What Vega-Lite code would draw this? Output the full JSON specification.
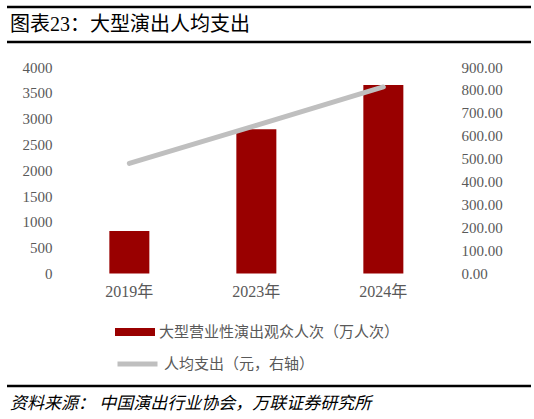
{
  "$schema": "https://vega.github.io/schema/vega-lite/v6.json",
  "padding": {"left": 5, "right": 5, "top": 5, "bottom": 0},
  "spacing": 84,
  "config": {
    "view": {"stroke": null},
    "font": "Liberation Serif, Noto Sans CJK SC",
    "text": {"font": "Liberation Serif, Noto Sans CJK SC"}
  },
  "vconcat": [
    {
      "spacing": 16,
      "vconcat": [
        {
          "width": 524,
          "height": 35,
          "layer": [
            {
              "data": {"values": [{"edge": 0}, {"edge": 1}]},
              "mark": {"type": "rule", "color": "#000000", "strokeWidth": 2.5},
              "encoding": {
                "y": {"field": "edge", "type": "quantitative", "scale": {"domain": [0, 1]}, "axis": null}
              }
            },
            {
              "data": {"values": [{"label": "图表23：大型演出人均支出"}]},
              "mark": {"type": "text", "align": "left", "baseline": "middle", "fontSize": 20, "dx": 3, "color": "#000000"},
              "encoding": {
                "text": {"field": "label"},
                "x": {"datum": 0, "type": "quantitative", "scale": {"domain": [0, 1]}, "axis": null},
                "y": {"datum": 0.5, "type": "quantitative", "axis": null}
              }
            }
          ]
        },
        {
          "width": 524,
          "height": 206.5,
          "data": {
            "values": [
              {"year": "2019年", "audience": 823, "spend": 480},
              {"year": "2023年", "audience": 2794, "spend": 646},
              {"year": "2024年", "audience": 3651, "spend": 813}
            ]
          },
          "encoding": {
            "x": {
              "field": "year",
              "type": "ordinal",
              "sort": null,
              "scale": {"paddingInner": 0.685, "paddingOuter": 0.9055, "align": 0.445},
              "axis": {
                "title": null,
                "labelAngle": 0,
                "domain": false,
                "ticks": false,
                "labelFontSize": 16,
                "labelColor": "#595959",
                "labelPadding": 10
              }
            }
          },
          "layer": [
            {
              "mark": {"type": "bar"},
              "encoding": {
                "y": {
                  "field": "audience",
                  "type": "quantitative",
                  "scale": {"domain": [0, 4000]},
                  "axis": {
                    "orient": "left",
                    "offset": -58.8,
                    "values": [0, 500, 1000, 1500, 2000, 2500, 3000, 3500, 4000],
                    "format": "d",
                    "title": null,
                    "domain": false,
                    "ticks": false,
                    "grid": false,
                    "labelPadding": 13.8,
                    "labelFontSize": 15,
                    "labelColor": "#595959"
                  }
                },
                "fill": {
                  "datum": "大型营业性演出观众人次（万人次）",
                  "scale": {"range": ["#990000"]},
                  "legend": {
                    "orient": "none",
                    "legendX": 108,
                    "legendY": 305,
                    "title": null,
                    "padding": 0,
                    "symbolType": "M-1,-0.2H1V0.2H-1Z",
                    "symbolSize": 1600,
                    "symbolStrokeWidth": 0,
                    "labelFontSize": 15,
                    "labelColor": "#595959",
                    "labelOffset": 4,
                    "labelLimit": 400
                  }
                }
              }
            },
            {
              "mark": {"type": "line", "strokeWidth": 5, "strokeCap": "round"},
              "encoding": {
                "y": {
                  "field": "spend",
                  "type": "quantitative",
                  "scale": {"domain": [0, 900]},
                  "axis": {
                    "orient": "right",
                    "offset": -84.2,
                    "values": [0, 100, 200, 300, 400, 500, 600, 700, 800, 900],
                    "format": ".2f",
                    "title": null,
                    "domain": false,
                    "ticks": false,
                    "grid": false,
                    "labelPadding": 14.2,
                    "labelFontSize": 15,
                    "labelColor": "#595959"
                  }
                },
                "stroke": {
                  "datum": "人均支出（元，右轴）",
                  "scale": {"range": ["#bfbfbf"]},
                  "legend": {
                    "orient": "none",
                    "legendX": 108,
                    "legendY": 334.5,
                    "title": null,
                    "padding": 0,
                    "symbolType": "stroke",
                    "symbolSize": 1600,
                    "symbolStrokeWidth": 5,
                    "labelFontSize": 15,
                    "labelColor": "#595959",
                    "labelOffset": 4,
                    "labelLimit": 400
                  }
                }
              }
            }
          ],
          "resolve": {"scale": {"y": "independent"}}
        }
      ]
    },
    {
      "width": 524,
      "height": 30,
      "layer": [
        {
          "data": {"values": [{"edge": 1}]},
          "mark": {"type": "rule", "color": "#000000", "strokeWidth": 2.5},
          "encoding": {
            "y": {"field": "edge", "type": "quantitative", "scale": {"domain": [0, 1]}, "axis": null}
          }
        },
        {
          "data": {"values": [{"label": "资料来源： 中国演出行业协会，万联证券研究所"}]},
          "mark": {"type": "text", "align": "left", "baseline": "middle", "fontSize": 17, "fontStyle": "italic", "dx": 3, "color": "#000000"},
          "encoding": {
            "text": {"field": "label"},
            "x": {"datum": 0, "type": "quantitative", "scale": {"domain": [0, 1]}, "axis": null},
            "y": {"datum": 0.4, "type": "quantitative", "axis": null}
          }
        }
      ]
    }
  ]
}
